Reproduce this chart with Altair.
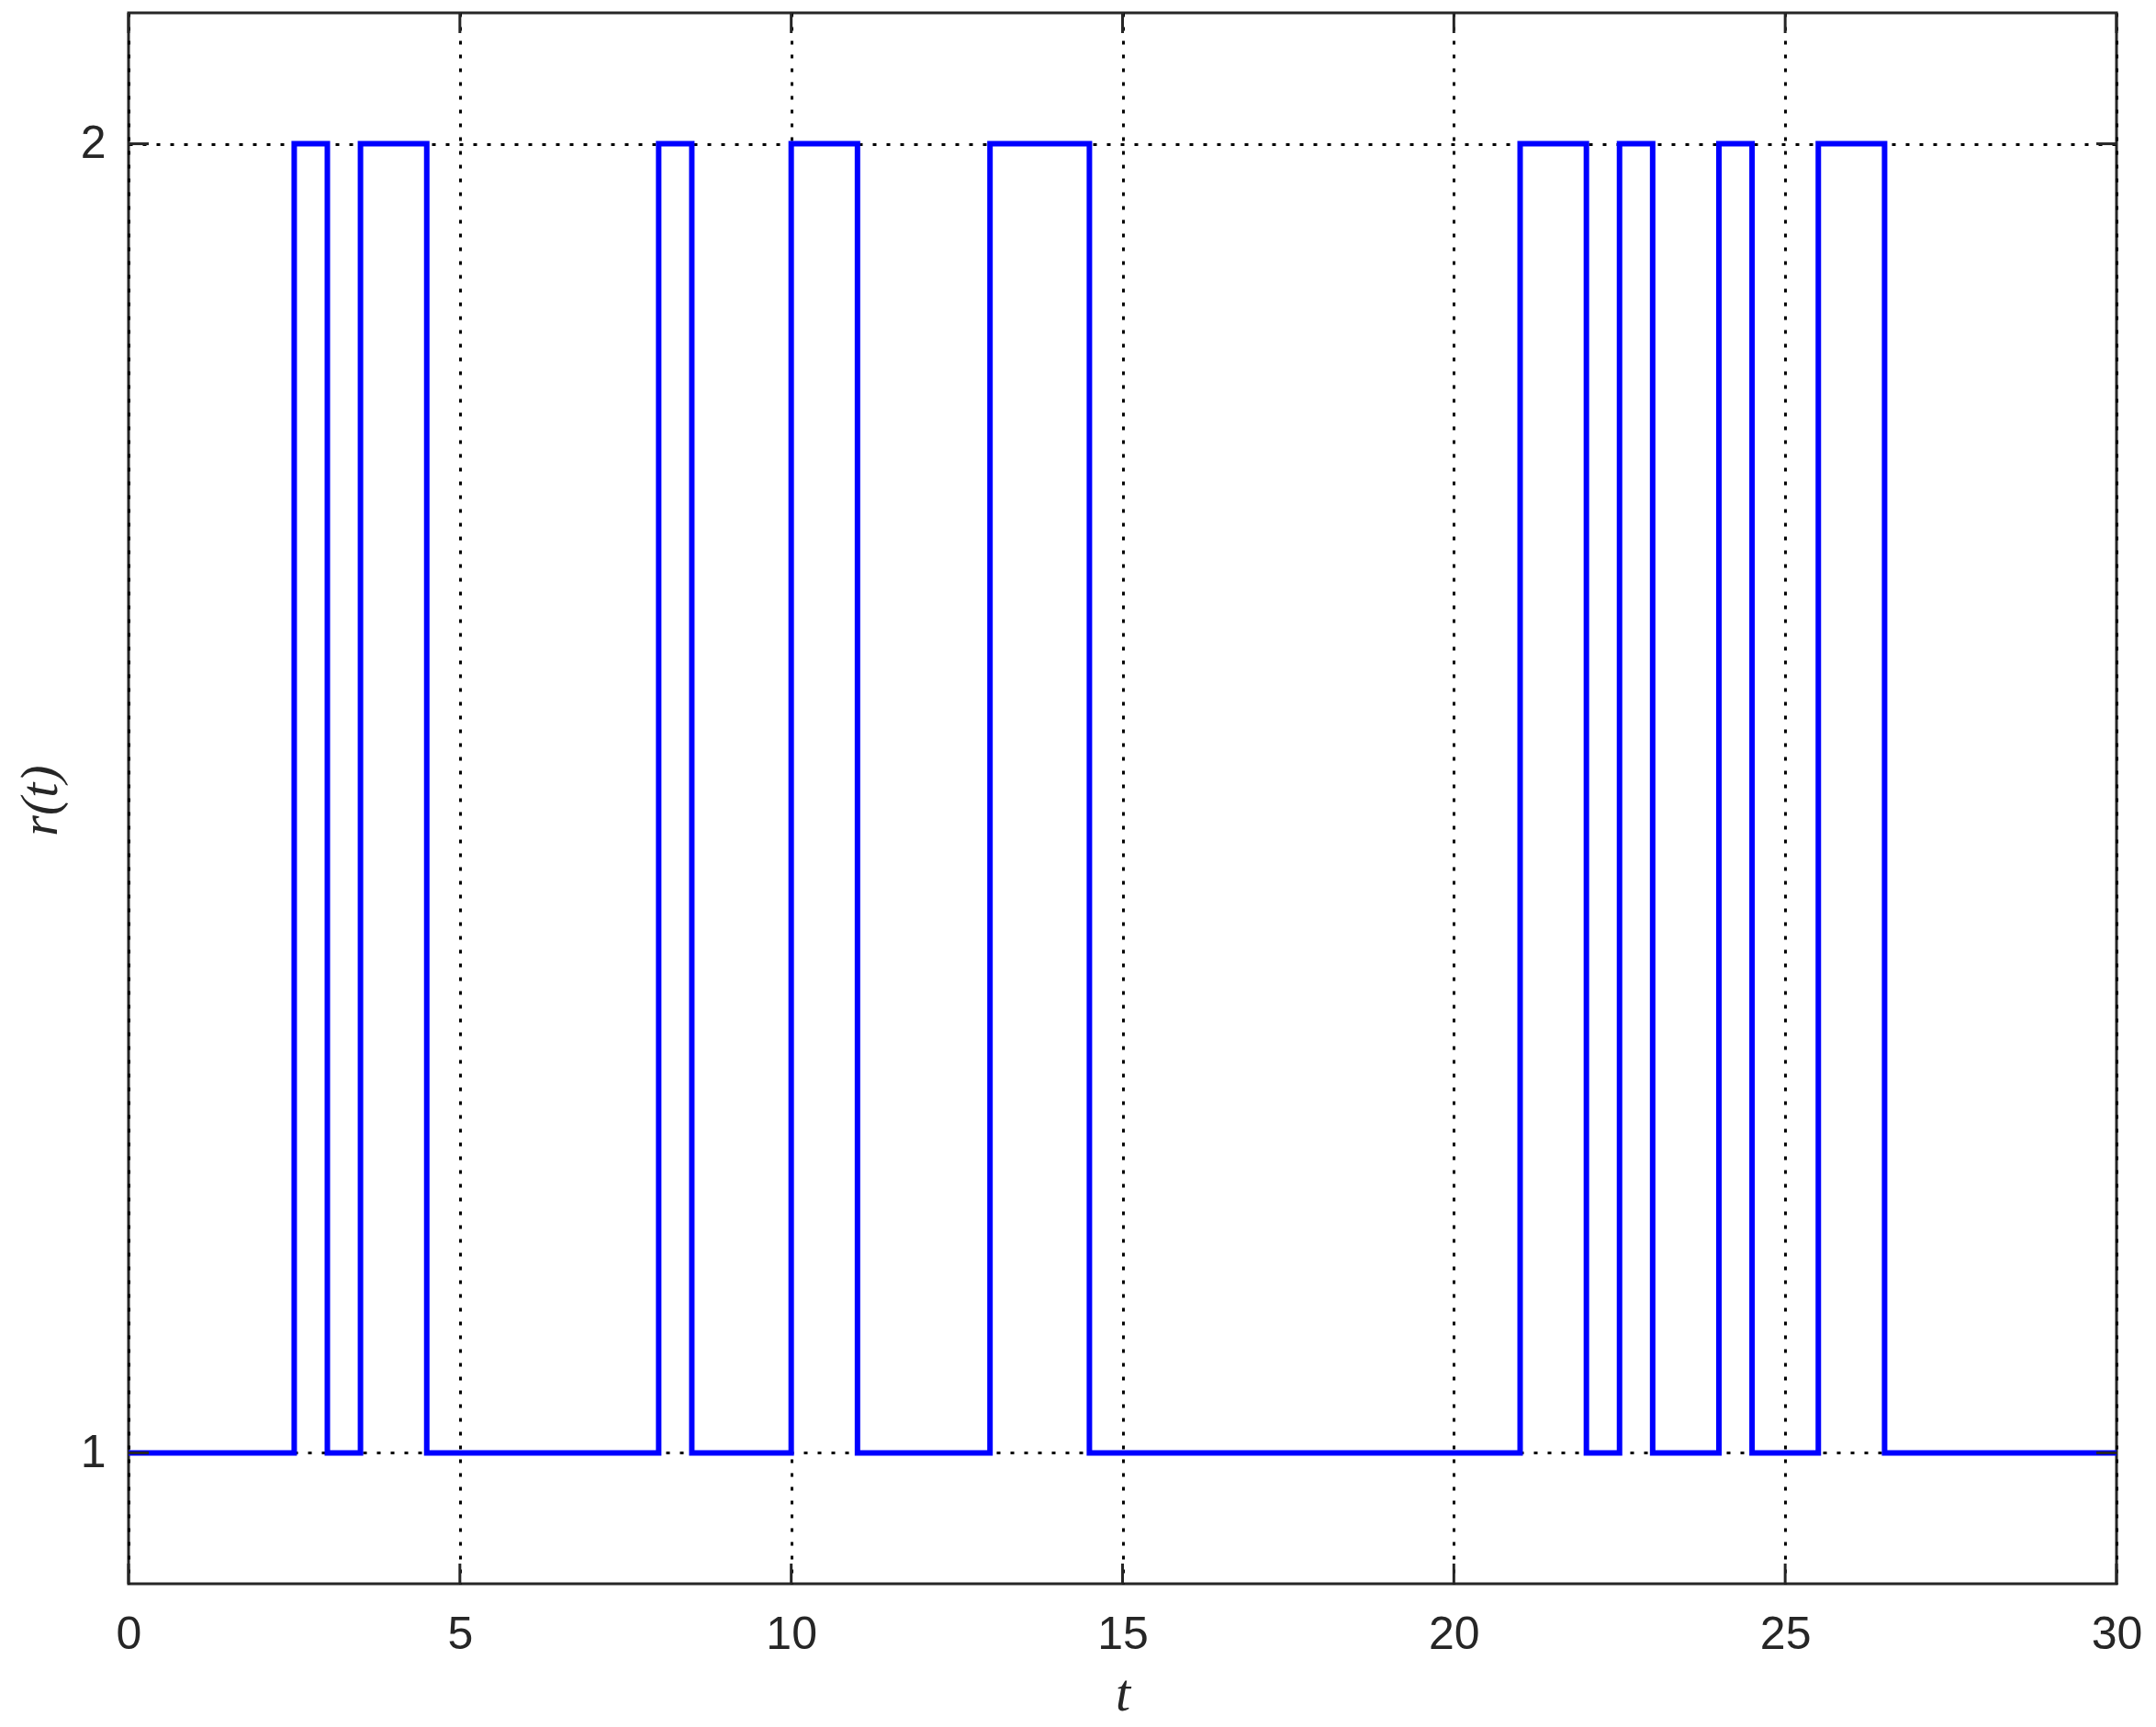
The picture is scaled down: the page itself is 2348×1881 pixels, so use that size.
import altair as alt
import pandas as pd

# step signal: switching times and values (step-after)
t_vals = [0, 2.5, 3, 3.5, 4.5, 8, 8.5, 10, 11, 13, 14.5, 21, 22, 22.5, 23, 24, 24.5, 25.5, 26.5, 30]
r_vals = [1, 2, 1, 2, 1, 2, 1, 2, 1, 2, 1, 2, 1, 2, 1, 2, 1, 2, 1, 1]

x_ticks = [0, 5, 10, 15, 20, 25, 30]
y_ticks = [1, 2]

W, H = 2165, 1711
TICK = 22
AXC = "#262626"

xs = alt.Scale(domain=[0, 30], nice=False, zero=False)
ys = alt.Scale(domain=[0.9, 2.1], nice=False, zero=False)

x_axis = alt.Axis(
    values=x_ticks, title="t", grid=True, ticks=False, domain=False, format="d",
    labelFont="Liberation Sans", labelFontSize=50, labelColor=AXC, labelFlush=False,
    labelPadding=30, gridColor="#000000", gridDash=[4, 11], gridWidth=3,
    gridOpacity=1, titleFont="Liberation Serif", titleFontStyle="italic",
    titleFontWeight="normal", titleFontSize=58, titleColor=AXC,
    titleBaseline="middle", titleY=120, titleX=W / 2)
y_axis = alt.Axis(
    values=y_ticks, title="r(t)", grid=True, ticks=False, domain=False, format="d",
    labelFont="Liberation Sans", labelFontSize=50, labelColor=AXC, labelFlush=False,
    labelPadding=25, gridColor="#000000", gridDash=[4, 11], gridWidth=3,
    gridOpacity=1, titleFont="Liberation Serif", titleFontStyle="italic",
    titleFontWeight="normal", titleFontSize=58, titleColor=AXC,
    titleBaseline="middle", titleX=-96, titleY=H / 2 + 2, titleAngle=270)

df = pd.DataFrame({"t": t_vals, "r": r_vals})

line = alt.Chart(df).mark_line(
    interpolate="step-after", color="#0000ff", strokeWidth=6, clip=True
).encode(
    x=alt.X("t:Q", scale=xs, axis=x_axis),
    y=alt.Y("r:Q", scale=ys, axis=y_axis),
)

xt = pd.DataFrame({"t": x_ticks})
yt = pd.DataFrame({"r": y_ticks})

xt_bottom = alt.Chart(xt).mark_rule(color=AXC, strokeWidth=3).encode(
    x=alt.X("t:Q", scale=xs, axis=x_axis), y=alt.value(H), y2=alt.value(H - TICK))
xt_top = alt.Chart(xt).mark_rule(color=AXC, strokeWidth=3).encode(
    x=alt.X("t:Q", scale=xs, axis=x_axis), y=alt.value(0), y2=alt.value(TICK))
yt_left = alt.Chart(yt).mark_rule(color=AXC, strokeWidth=3).encode(
    y=alt.Y("r:Q", scale=ys, axis=y_axis), x=alt.value(0), x2=alt.value(TICK))
yt_right = alt.Chart(yt).mark_rule(color=AXC, strokeWidth=3).encode(
    y=alt.Y("r:Q", scale=ys, axis=y_axis), x=alt.value(W), x2=alt.value(W - TICK))

chart = alt.layer(line, xt_bottom, xt_top, yt_left, yt_right).properties(
    width=W, height=H,
    background="white",
    autosize=alt.AutoSizeParams(type="none"),
    padding={"left": 132, "top": 6, "right": 35, "bottom": 160},
).configure_view(stroke=AXC, strokeWidth=3)

chart.save("out.html", embed_options={"renderer": "svg", "actions": False})
